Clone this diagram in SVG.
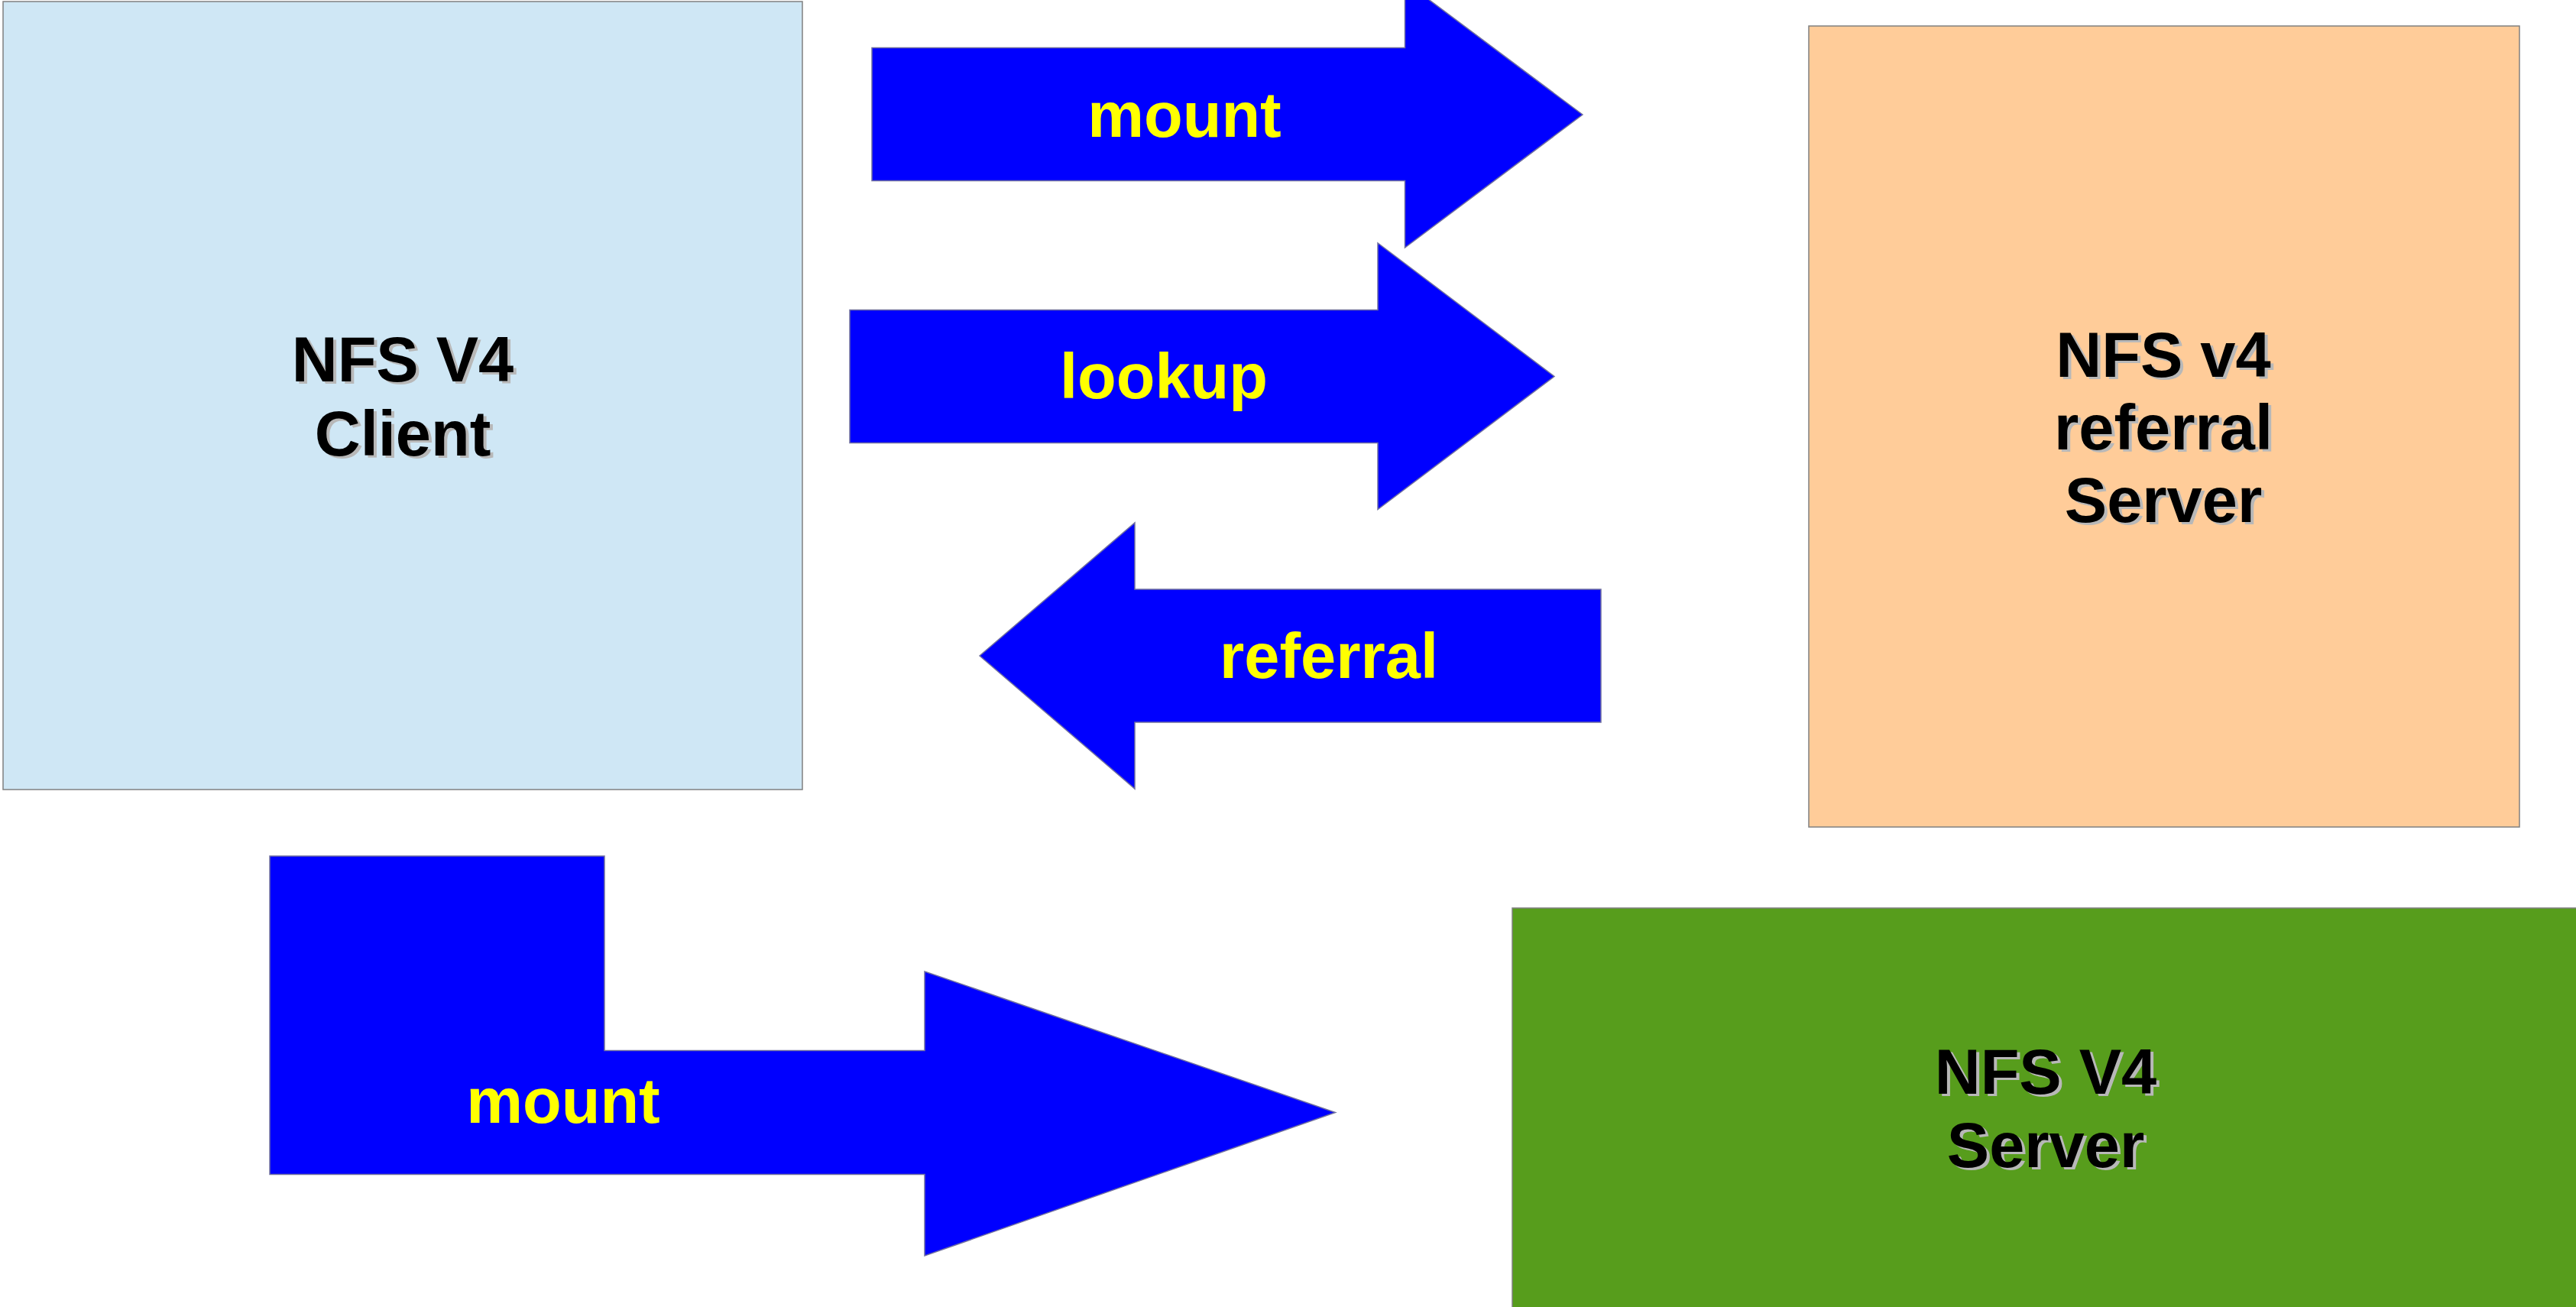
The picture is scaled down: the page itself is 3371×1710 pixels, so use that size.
<svg xmlns="http://www.w3.org/2000/svg" width="3371" height="1710" viewBox="0 0 3371 1710">
  <style>
    .box { stroke: #808080; stroke-width: 1.5; }
    .arrow { fill: #0000ff; stroke: #7070a0; stroke-width: 1.5; stroke-linejoin: miter; }
    .ntext { font-family: "Liberation Sans", Arial, sans-serif; font-weight: bold; font-size: 83px; text-anchor: middle; fill: #000000; }
    .nshadow { font-family: "Liberation Sans", Arial, sans-serif; font-weight: bold; font-size: 83px; text-anchor: middle; fill: #b8b8b8; }
    .alabel { font-family: "Liberation Sans", Arial, sans-serif; font-weight: bold; font-size: 83px; text-anchor: middle; fill: #ffff00; }
  </style>
  <rect x="0" y="0" width="3371" height="1710" fill="#ffffff"/>

  <g id="client">
    <rect class="box" x="4" y="2" width="1046" height="1031" fill="#cfe7f5"/>
    <text class="nshadow" x="531" y="502">NFS V4</text>
    <text class="nshadow" x="531" y="599">Client</text>
    <text class="ntext" x="527" y="499">NFS V4</text>
    <text class="ntext" x="527" y="596">Client</text>
  </g>

  <g id="referral-server">
    <rect class="box" x="2367" y="34" width="930" height="1048" fill="#ffcc99"/>
    <text class="nshadow" x="2835" y="496">NFS v4</text>
    <text class="nshadow" x="2835" y="591">referral</text>
    <text class="nshadow" x="2835" y="686">Server</text>
    <text class="ntext" x="2831" y="493">NFS v4</text>
    <text class="ntext" x="2831" y="588">referral</text>
    <text class="ntext" x="2831" y="683">Server</text>
  </g>

  <g id="nfs-server">
    <rect class="box" x="1979" y="1188" width="1400" height="530" fill="#579d1c"/>
    <text class="nshadow" x="2681" y="1434">NFS V4</text>
    <text class="nshadow" x="2681" y="1530">Server</text>
    <text class="ntext" x="2677" y="1431">NFS V4</text>
    <text class="ntext" x="2677" y="1527">Server</text>
  </g>

  <g id="connectors">
    <g id="arrow-mount-top">
      <polygon class="arrow" points="1141,62.5 1838.5,62.5 1838.5,-24 2071,150 1838.5,324 1838.5,236.5 1141,236.5"/>
      <text class="alabel" x="1550" y="179">mount</text>
    </g>
    <g id="arrow-lookup">
      <polygon class="arrow" points="1112,405.5 1803,405.5 1803,318 2034,492.5 1803,666.5 1803,579.5 1112,579.5"/>
      <text class="alabel" x="1523" y="521">lookup</text>
    </g>
    <g id="arrow-referral">
      <polygon class="arrow" points="2095,771 1485,771 1485,684 1282,858 1485,1032 1485,945 2095,945"/>
      <text class="alabel" x="1739" y="887">referral</text>
    </g>
    <g id="arrow-mount-bottom">
      <polygon class="arrow" points="353,1120 791,1120 791,1374.5 1210,1374.5 1210,1271 1747.5,1455.5 1210,1643 1210,1536.5 353,1536.5"/>
      <text class="alabel" x="737" y="1469">mount</text>
    </g>
  </g>
</svg>
